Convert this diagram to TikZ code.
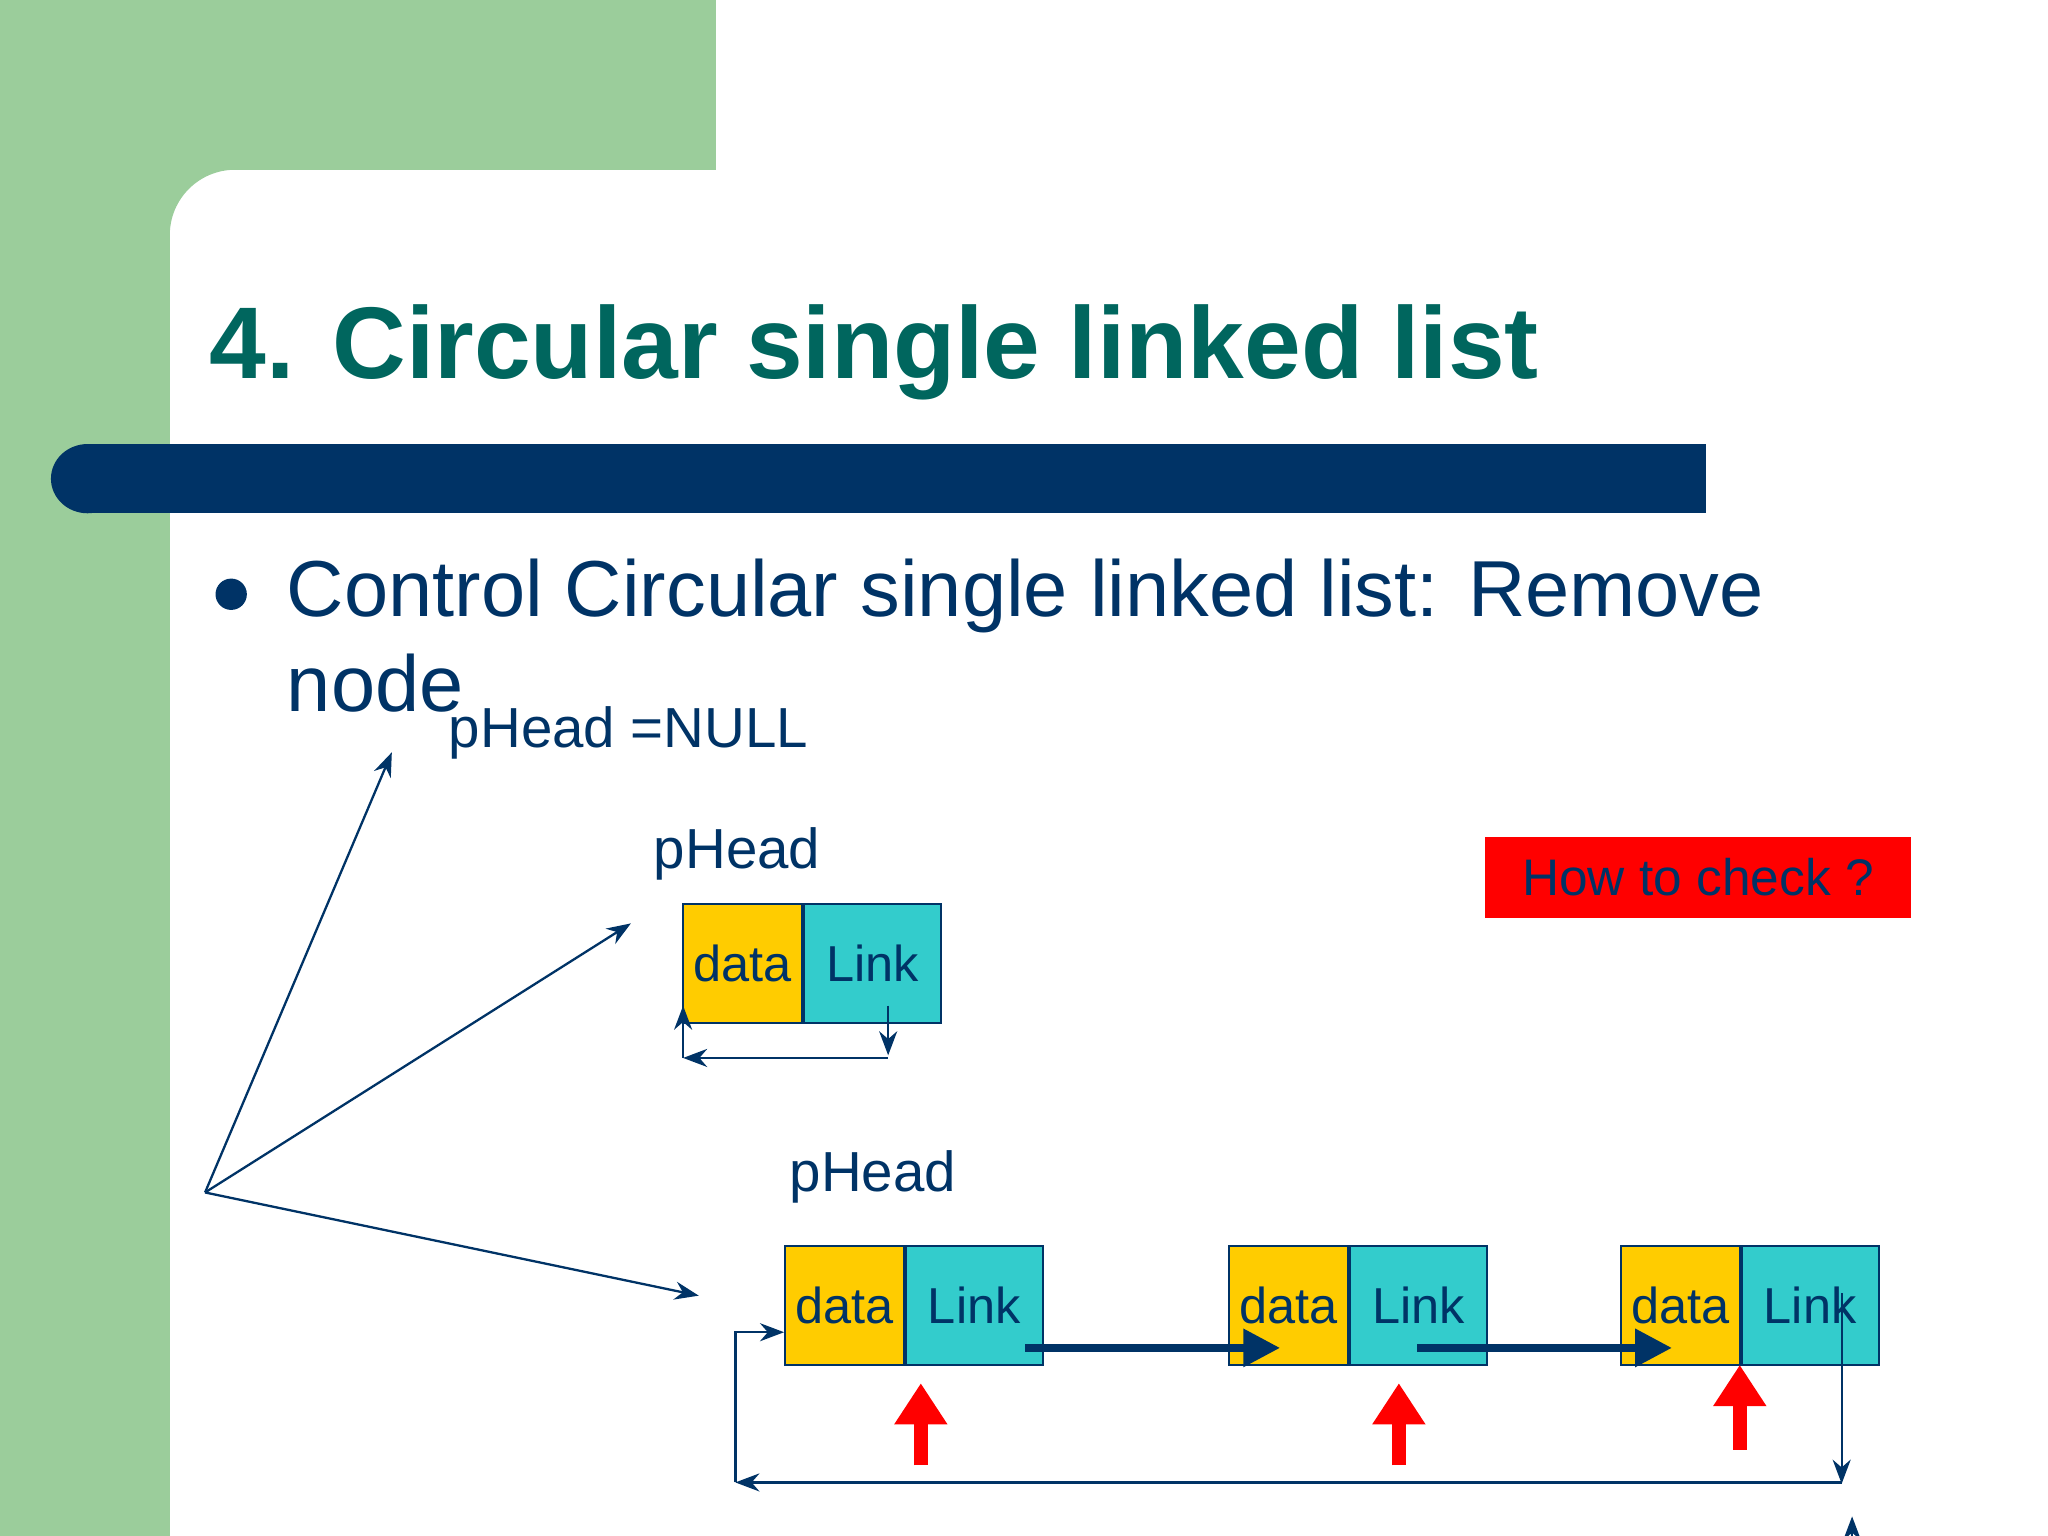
\documentclass[tikz,border=0pt]{standalone}
\usepackage{fontspec}
\setmainfont{Liberation Sans}
\usetikzlibrary{positioning, arrows.meta}
\definecolor{slidegreen}{RGB}{155,205,155}
\definecolor{barblue}{RGB}{0,51,102}
\definecolor{titleteal}{RGB}{0,102,94}
\definecolor{datayellow}{RGB}{255,204,0}
\definecolor{linkcyan}{RGB}{51,204,204}
\tikzset{
  >=Stealth,
  data/.style={draw=barblue, fill=datayellow, minimum width=0.91cm, minimum height=0.91cm, inner sep=0pt, font=\fontsize{11}{11}\selectfont, text=barblue},
  link/.style={draw=barblue, fill=linkcyan, minimum width=1.05cm, minimum height=0.91cm, inner sep=0pt, font=\fontsize{11}{11}\selectfont, text=barblue},
  thin link/.style={->, draw=barblue, line width=0.5pt},
  big link/.style={-{Triangle[length=8pt,width=8pt]}, draw=barblue, line width=1.6pt},
  check/.style={-{Triangle[length=9pt,width=11pt]}, draw=red, line width=3pt},
  label/.style={anchor=base west, inner sep=0pt, text=barblue, font=\fontsize{12.3}{12.3}\selectfont},
}
\begin{document}
\begin{tikzpicture}[x=1cm,y=1cm]
  \useasboundingbox (0,0) rectangle (15.68,11.76);
  % background
  \fill[slidegreen] (0,0) rectangle (1.30,11.76);
  \fill[slidegreen] (0,10.46) rectangle (5.48,11.76);
  \fill[slidegreen] (1.30,10.47) -- (1.30,9.96) arc[start angle=180, end angle=90, radius=0.5] -- cycle;
  \fill[barblue] (0.67,7.83) rectangle (13.06,8.36);
  \fill[barblue] (0.67,8.095) circle[x radius=0.28, y radius=0.265];

  % title and text
  \node[anchor=base west, inner sep=0pt, text=titleteal, font=\fontsize{22.2}{22.2}\selectfont\bfseries] (title) at (1.60,8.86) {4. Circular single linked list};
  \fill[barblue] (1.77,7.21) circle[radius=0.12];
  \node[anchor=base west, inner sep=0pt, text=barblue, font=\fontsize{17.3}{17.3}\selectfont] (line1) at (2.19,7.04) {Control Circular single linked list: Remove};
  \node[anchor=base west, inner sep=0pt, text=barblue, font=\fontsize{17.3}{17.3}\selectfont] (line2) at (2.19,6.31) {node};
  \node[label] (null) at (3.43,6.04) {pHead =NULL};
  \node[label] (head1) at (5.00,5.11) {pHead};
  \node[label] (head2) at (6.04,2.64) {pHead};
  \node[fill=red, minimum width=3.26cm, minimum height=0.62cm, text=barblue, font=\fontsize{11.2}{11.2}\selectfont] (check) at (13.00,5.045) {How to check ?};

  % one node list
  \node[data] (d0) at (5.685,4.385) {data};
  \node[link, right=0pt of d0] (l0) {Link};
  % three node list
  \node[data] (d1) at (6.465,1.765) {data};
  \node[link, right=0pt of d1] (l1) {Link};
  \node[data] (d2) at (9.865,1.765) {data};
  \node[link, right=0pt of d2] (l2) {Link};
  \node[data] (d3) at (12.865,1.765) {data};
  \node[link, right=0pt of d3] (l3) {Link};

  % fan of pointers
  \coordinate (root) at (1.57,2.63);
  \coordinate (p0) at (3.00,6.00);
  \coordinate (p1) at (4.83,4.69);
  \coordinate (p2) at (5.35,1.84);
  \draw[thin link] (root) -- (p0);
  \draw[thin link] (root) -- (p1);
  \draw[thin link] (root) -- (p2);

  % self loop
  \draw[thin link] (6.80,4.06) -- (6.80,3.68);
  \draw[thin link] (6.80,3.66) -- (5.23,3.66);
  \draw[thin link] (5.23,3.66) -- (5.23,4.06);

  % next pointers
  \draw[big link] (7.85,1.44) -- (9.80,1.44);
  \draw[big link] (10.85,1.44) -- (12.80,1.44);

  % back link
  \draw[thin link] (14.10,1.86) -- (14.10,0.40);
  \draw[thin link] (14.10,0.41) -- (5.63,0.41);
  \draw[thin link] (5.63,0.41) |- (d1.west |- 0,1.56);
  \draw[thin link] (14.18,0) -- (14.18,0.15);

  % checks
  \draw[check] (7.05,0.54) -- (7.05,1.17);
  \draw[check] (10.71,0.54) -- (10.71,1.17);
  \draw[check] (13.32,0.66) -- (13.32,1.31);
\end{tikzpicture}
\end{document}
